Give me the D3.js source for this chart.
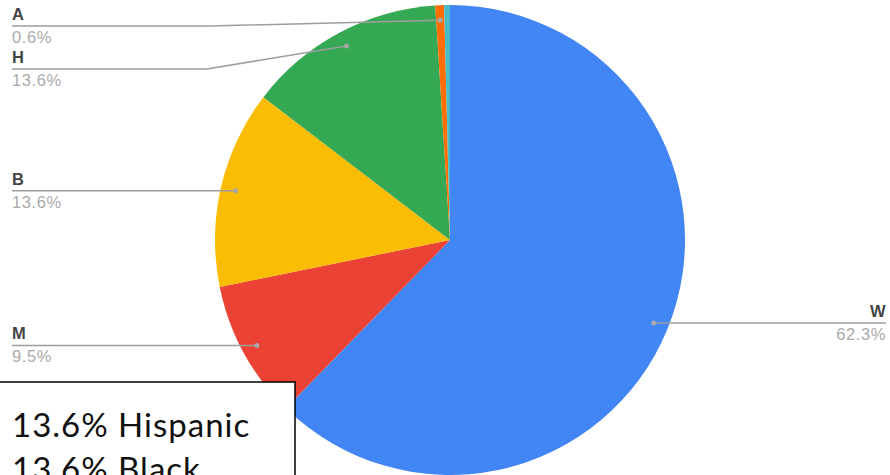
<!DOCTYPE html>
<html>
<head>
<meta charset="utf-8">
<script src="https://cdn.jsdelivr.net/npm/d3@7"></script>
<style>
  html, body { margin: 0; padding: 0; background: #fff; }
  svg { display: block; }
</style>
</head>
<body>
<svg id="chart" width="890" height="475"></svg>
<script>
// Share of each group, in percent, in drawing order (clockwise from the top)
const categories = ["W", "M", "B", "H", "A", "O"];
const shares = [62.3, 9.5, 13.6, 13.6, 0.6, 0.4];
const colors = ["#4285f4", "#ea4335", "#fbbc04", "#34a853", "#ff6d01", "#46bdc6"];
// Note box text
const noteLines = ["13.6% Hispanic", "13.6% Black"];

const W = 890, H = 475;
const cx = 450, cy = 240, R = 235, dotR = 220;

// Label placement: side, leader end, and the y of the leader's horizontal run
const labelLayout = {
  W: { side: "right", y: null, knee: null },
  M: { side: "left", y: null, knee: null },
  B: { side: "left", y: null, knee: null },
  H: { side: "left", y: 69, knee: 207 },
  A: { side: "left", y: 26, knee: 210 }
};
const leftX = 12, rightX = 886;

const svg = d3.select("#chart");
const data = categories.map((c, i) => ({ cat: c, value: shares[i], color: colors[i] }));

const pie = d3.pie().value(d => d.value).sort(null).startAngle(0).endAngle(2 * Math.PI);
const arcs = pie(data);
const arc = d3.arc().innerRadius(0).outerRadius(R);
const dotArc = d3.arc().innerRadius(dotR).outerRadius(dotR);

const g = svg.append("g").attr("transform", `translate(${cx},${cy})`);
g.selectAll("path.slice")
  .data(arcs)
  .join("path")
  .attr("class", "slice")
  .attr("d", arc)
  .attr("fill", d => d.data.color);

// Leader lines, dots and labels
const labelled = arcs.filter(a => labelLayout[a.data.cat]);
const lab = svg.append("g");
labelled.forEach(a => {
  const L = labelLayout[a.data.cat];
  const [dx, dy] = dotArc.centroid(a);
  const px = cx + dx, py = cy + dy;
  const ly = L.y == null ? py : L.y;
  let pts;
  if (L.side === "left") {
    pts = L.knee == null ? [[leftX, ly], [px, py]] : [[leftX, ly], [L.knee, ly], [px, py]];
  } else {
    pts = [[px, py], [rightX, ly]];
  }
  lab.append("path")
    .attr("d", d3.line()(pts))
    .attr("fill", "none")
    .attr("stroke", "#9e9e9e")
    .attr("stroke-width", 1.5);
  lab.append("circle")
    .attr("cx", px).attr("cy", py).attr("r", 2.5)
    .attr("fill", "#a8a8a8");
  const tx = L.side === "left" ? leftX : rightX;
  const anchor = L.side === "left" ? "start" : "end";
  lab.append("text")
    .attr("x", tx).attr("y", ly - 6)
    .attr("text-anchor", anchor)
    .attr("font-family", "Liberation Sans, Arial, sans-serif")
    .attr("font-size", 16.5)
    .attr("font-weight", "bold")
    .attr("letter-spacing", 0.4)
    .attr("fill", "#444")
    .text(a.data.cat);
  lab.append("text")
    .attr("x", tx).attr("y", ly + 17)
    .attr("text-anchor", anchor)
    .attr("font-family", "Liberation Sans, Arial, sans-serif")
    .attr("font-size", 16.5)
    .attr("letter-spacing", 0.6)
    .attr("fill", "#aaa")
    .text(d3.format(".1f")(a.data.value) + "%");
});

// Note box over the lower left
const note = svg.append("g");
note.append("rect")
  .attr("x", -5).attr("y", 382)
  .attr("width", 300).attr("height", 120)
  .attr("fill", "#fff")
  .attr("stroke", "#000")
  .attr("stroke-width", 1.5);
note.selectAll("text")
  .data(noteLines)
  .join("text")
  .attr("x", 12)
  .attr("y", (d, i) => 437 + i * 44)
  .attr("font-family", "Lato, sans-serif")
  .attr("font-size", 33)
  .attr("letter-spacing", 1)
  .attr("fill", "#111")
  .text(d => d);
</script>
</body>
</html>
